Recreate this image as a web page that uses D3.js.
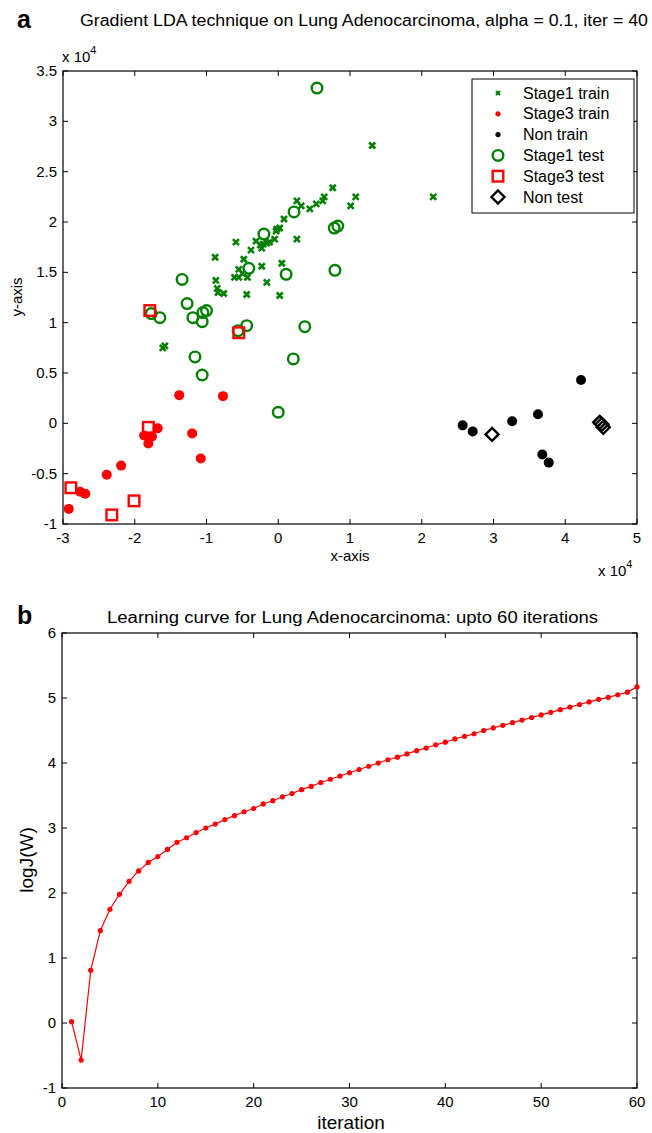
<!DOCTYPE html>
<html><head><meta charset="utf-8">
<script src="https://cdn.jsdelivr.net/npm/d3@7"></script>
<style>
body{margin:0;background:#fff;}
svg{display:block;font-family:"Liberation Sans",Arial,sans-serif;}
</style></head>
<body><svg id="c" width="652" height="1133"></svg>
<script>
// ---- Panel a data (units of 1e4) ----
const stage1TrainX = [1.31,2.16,0.76,1.08,1.01,0.64,0.62,0.53,0.44,0.26,0.32,0.08,-0.02,0.02,-0.03,0.26,-0.05,-0.16,-0.25,-0.31,-0.21,-0.12,-0.23,-0.59,-0.38,-0.48,-0.88,-0.23,0.05,-0.55,-0.61,-0.55,-0.43,-0.16,-0.87,-0.85,-0.84,-0.76,-0.44,0.02,-1.61,-1.58,-0.50];
const stage1TrainY = [2.76,2.25,2.34,2.25,2.16,2.25,2.21,2.18,2.13,2.21,2.16,2.03,1.93,1.94,1.91,1.83,1.83,1.79,1.77,1.81,1.78,1.80,1.74,1.80,1.72,1.63,1.65,1.56,1.59,1.53,1.45,1.45,1.45,1.40,1.42,1.34,1.30,1.29,1.28,1.27,0.75,0.77,1.49];
const stage3TrainX = [-1.38,-0.77,-1.68,-1.87,-1.76,-1.81,-1.20,-1.08,-2.19,-2.39,-2.76,-2.69,-2.92];
const stage3TrainY = [0.28,0.27,-0.05,-0.12,-0.13,-0.20,-0.10,-0.35,-0.42,-0.51,-0.68,-0.70,-0.85];
const nonTrainX = [2.57,2.71,3.26,3.62,4.22,3.68,3.77];
const nonTrainY = [-0.02,-0.08,0.02,0.09,0.43,-0.31,-0.39];
const stage1TestX = [0.54,0.22,-0.20,0.78,0.83,0.79,-0.41,0.11,-1.34,-1.27,-1.19,-1.06,-1.05,-1.00,-1.77,-1.65,-0.56,-0.44,-1.16,-1.06,0.00,0.21,0.37];
const stage1TestY = [3.33,2.10,1.88,1.94,1.96,1.52,1.54,1.48,1.43,1.19,1.05,1.01,1.10,1.12,1.09,1.05,0.92,0.97,0.66,0.48,0.11,0.64,0.96];
const stage3TestX = [-1.79,-0.55,-1.81,-2.89,-2.01,-2.32];
const stage3TestY = [1.12,0.90,-0.04,-0.64,-0.77,-0.91];
const nonTestX = [2.98,4.48,4.51,4.53];
const nonTestY = [-0.11,0.01,-0.01,-0.04];
const aXTicks = [-3,-2,-1,0,1,2,3,4,5];
const aYTicks = [-1,-0.5,0,0.5,1,1.5,2,2.5,3,3.5];
const legendLabels = ["Stage1 train","Stage3 train","Non train","Stage1 test","Stage3 test","Non test"];

// ---- Panel b data ----
const iterations = d3.range(1,61);
const logJ = [0.02,-0.57,0.81,1.42,1.75,1.98,2.18,2.34,2.47,2.56,
  2.67,2.78,2.85,2.93,3.00,3.06,3.13,3.19,3.25,3.30,
  3.37,3.42,3.48,3.53,3.59,3.64,3.70,3.75,3.80,3.85,
  3.90,3.95,4.00,4.05,4.09,4.14,4.19,4.23,4.28,4.32,
  4.37,4.41,4.45,4.50,4.54,4.58,4.62,4.66,4.70,4.74,
  4.78,4.82,4.86,4.90,4.94,4.98,5.01,5.05,5.09,5.17];
const bXTicks = [0,10,20,30,40,50,60];
const bYTicks = [-1,0,1,2,3,4,5,6];

const svg = d3.select("#c");
const GREEN = "#007f00", RED = "#ff0000";

function zip(xs, ys){ return xs.map((x,i)=>({x, y: ys[i]})); }

function frame(g, x, y, xt, yt, fmtX, fmtY){
  const [x0,x1] = x.range(), [y0,y1] = y.range();
  const tl = 5;
  g.append("rect").attr("x",x0).attr("y",y1).attr("width",x1-x0).attr("height",y0-y1)
    .attr("fill","none").attr("stroke","#000").attr("stroke-width",1.2);
  xt.forEach(t=>{
    const px = x(t);
    g.append("line").attr("x1",px).attr("x2",px).attr("y1",y0).attr("y2",y0-tl).attr("stroke","#000");
    g.append("line").attr("x1",px).attr("x2",px).attr("y1",y1).attr("y2",y1+tl).attr("stroke","#000");
    g.append("text").attr("x",px).attr("y",y0+19).attr("text-anchor","middle")
      .attr("font-size",15).text(fmtX(t));
  });
  yt.forEach(t=>{
    const py = y(t);
    g.append("line").attr("x1",x0).attr("x2",x0+tl).attr("y1",py).attr("y2",py).attr("stroke","#000");
    g.append("line").attr("x1",x1).attr("x2",x1-tl).attr("y1",py).attr("y2",py).attr("stroke","#000");
    g.append("text").attr("x",x0-6).attr("y",py+5).attr("text-anchor","end")
      .attr("font-size",15).text(fmtY(t));
  });
}

// ===== Panel a =====
const xa = d3.scaleLinear().domain([-3,5]).range([63,637]);
const ya = d3.scaleLinear().domain([-1,3.5]).range([524,71]);
const ga = svg.append("g");
frame(ga, xa, ya, aXTicks, aYTicks, d=>String(d), d=>String(d));

const crossPath = s => `M${-s},${-s}L${s},${s}M${-s},${s}L${s},${-s}`;
const diamondPath = s => `M0,${-s}L${s},0L0,${s}L${-s},0Z`;

const pts = ga.append("g");
pts.selectAll(".s1tr").data(zip(stage1TrainX,stage1TrainY)).join("path")
  .attr("transform",d=>`translate(${xa(d.x)},${ya(d.y)})`)
  .attr("d",crossPath(3)).attr("stroke",GREEN).attr("stroke-width",2.6).attr("fill","none");
pts.selectAll(".s3tr").data(zip(stage3TrainX,stage3TrainY)).join("circle")
  .attr("cx",d=>xa(d.x)).attr("cy",d=>ya(d.y)).attr("r",5).attr("fill",RED);
pts.selectAll(".ntr").data(zip(nonTrainX,nonTrainY)).join("circle")
  .attr("cx",d=>xa(d.x)).attr("cy",d=>ya(d.y)).attr("r",5).attr("fill","#000");
pts.selectAll(".s1te").data(zip(stage1TestX,stage1TestY)).join("circle")
  .attr("cx",d=>xa(d.x)).attr("cy",d=>ya(d.y)).attr("r",5.3).attr("fill","none")
  .attr("stroke",GREEN).attr("stroke-width",2.4);
pts.selectAll(".s3te").data(zip(stage3TestX,stage3TestY)).join("rect")
  .attr("x",d=>xa(d.x)-5.3).attr("y",d=>ya(d.y)-5.3).attr("width",10.6).attr("height",10.6)
  .attr("fill","none").attr("stroke",RED).attr("stroke-width",2.4);
pts.selectAll(".nte").data(zip(nonTestX,nonTestY)).join("path")
  .attr("transform",d=>`translate(${xa(d.x)},${ya(d.y)})`)
  .attr("d",diamondPath(6.5)).attr("fill","none").attr("stroke","#000").attr("stroke-width",2.4);

// legend
const lg = ga.append("g");
lg.append("rect").attr("x",472).attr("y",79).attr("width",162).attr("height",134)
  .attr("fill","#fff").attr("stroke","#000").attr("stroke-width",1);
legendLabels.forEach((lab,i)=>{
  const cy = 93 + i*20.8, cx = 498;
  const m = lg.append("g").attr("transform",`translate(${cx},${cy})`);
  if(i===0) m.append("path").attr("d",crossPath(2)).attr("stroke",GREEN).attr("stroke-width",2.2);
  if(i===1) m.append("circle").attr("r",2.6).attr("fill",RED);
  if(i===2) m.append("circle").attr("r",2.6).attr("fill","#000");
  if(i===3) m.append("circle").attr("r",5.3).attr("fill","none").attr("stroke",GREEN).attr("stroke-width",2.4);
  if(i===4) m.append("rect").attr("x",-5.3).attr("y",-5.3).attr("width",10.6).attr("height",10.6)
      .attr("fill","none").attr("stroke",RED).attr("stroke-width",2.4);
  if(i===5) m.append("path").attr("d",diamondPath(6.5)).attr("fill","none").attr("stroke","#000").attr("stroke-width",2.4);
  lg.append("text").attr("x",523).attr("y",cy+5.5).attr("font-size",16).text(lab);
});

// titles / labels
svg.append("text").attr("x",17).attr("y",28).attr("font-size",25).attr("font-weight","bold").text("a");
svg.append("text").attr("x",80).attr("y",26).attr("font-size",16)
  .attr("textLength",568).attr("lengthAdjust","spacingAndGlyphs")
  .text("Gradient LDA technique on Lung Adenocarcinoma, alpha = 0.1, iter = 40");
const e1 = svg.append("text").attr("x",62).attr("y",62).attr("font-size",15);
e1.append("tspan").text("x 10");
e1.append("tspan").attr("dy",-8).attr("font-size",11).text("4");
const e2 = svg.append("text").attr("x",598).attr("y",576).attr("font-size",15);
e2.append("tspan").text("x 10");
e2.append("tspan").attr("dy",-8).attr("font-size",11).text("4");
svg.append("text").attr("x",350).attr("y",561).attr("text-anchor","middle").attr("font-size",15).text("x-axis");
svg.append("text").attr("transform","translate(22,297) rotate(-90)").attr("text-anchor","middle").attr("font-size",15).text("y-axis");

// ===== Panel b =====
const xb = d3.scaleLinear().domain([0,60]).range([62,637]);
const yb = d3.scaleLinear().domain([-1,6]).range([1088,633]);
const gb = svg.append("g");
frame(gb, xb, yb, bXTicks, bYTicks, d=>String(d), d=>String(d));
const lineData = iterations.map((it,i)=>({x: it, y: logJ[i]}));
gb.append("path").datum(lineData)
  .attr("d", d3.line().x(d=>xb(d.x)).y(d=>yb(d.y)))
  .attr("fill","none").attr("stroke",RED).attr("stroke-width",1.2);
gb.selectAll(".lp").data(lineData).join("circle")
  .attr("cx",d=>xb(d.x)).attr("cy",d=>yb(d.y)).attr("r",2.6).attr("fill",RED);

svg.append("text").attr("x",17).attr("y",624).attr("font-size",25).attr("font-weight","bold").text("b");
svg.append("text").attr("x",107).attr("y",623).attr("font-size",16)
  .attr("textLength",491).attr("lengthAdjust","spacingAndGlyphs")
  .text("Learning curve for Lung Adenocarcinoma: upto 60 iterations");
svg.append("text").attr("x",351).attr("y",1129).attr("text-anchor","middle").attr("font-size",19).text("iteration");
svg.append("text").attr("transform","translate(33,860) rotate(-90)").attr("text-anchor","middle").attr("font-size",19).text("logJ(W)");
</script></body></html>
